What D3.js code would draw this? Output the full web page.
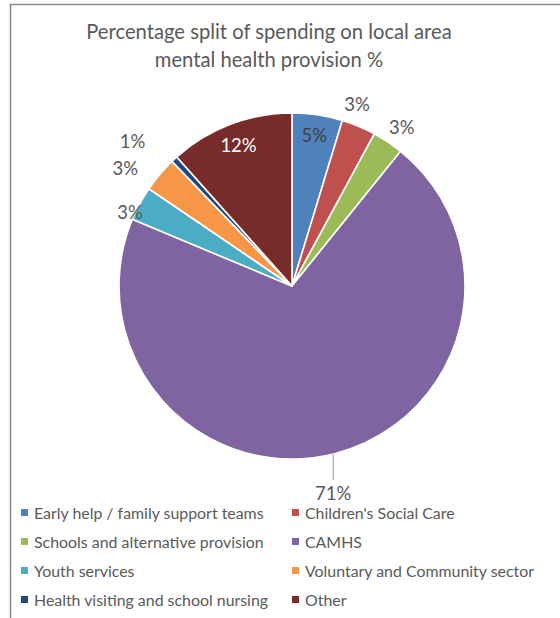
<!DOCTYPE html>
<html>
<head>
<meta charset="utf-8">
<script src="https://cdn.jsdelivr.net/npm/d3@7/dist/d3.min.js"></script>
<style>
  html, body { margin: 0; padding: 0; background: #fff; }
  svg { display: block; }
  text { font-family: Lato, "Open Sans", sans-serif; fill: #595959; }
</style>
</head>
<body>
<svg id="chart" width="560" height="618"></svg>
<script>
// Spending categories, in drawing order (clockwise from 12 o'clock)
const categories = [
  "Early help / family support teams",
  "Children's Social Care",
  "Schools and alternative provision",
  "CAMHS",
  "Youth services",
  "Voluntary and Community sector",
  "Health visiting and school nursing",
  "Other"
];
// Share of spending, %
const shares = [4.7, 3.2, 2.9, 70.5, 3.2, 3.3, 0.6, 11.6];
const colors = ["#4f81bd", "#c0504d", "#9bbb59", "#8064a2", "#4bacc6", "#f79646", "#1f497d", "#772c2a"];
const titleLines = ["Percentage split of spending on local area", "mental health provision %"];

const svg = d3.select("#chart");
const W = 560, H = 618;

// chart frame
svg.append("path")
  .attr("d", `M10.5,${H} V4.5 H${W}`)
  .attr("fill", "none")
  .attr("stroke", "#8c8c8c")
  .attr("stroke-width", 1.5);

// title
svg.append("g").selectAll("text").data(titleLines).join("text")
  .attr("x", 269)
  .attr("y", (d, i) => 39 + i * 28)
  .attr("text-anchor", "middle")
  .attr("font-size", 20.2)
  .text(d => d);

const cx = 292, cy = 286, R = 173;
const pie = d3.pie().sort(null).value(d => d)(shares);
const arc = d3.arc().innerRadius(0).outerRadius(R);

const g = svg.append("g").attr("transform", `translate(${cx},${cy})`);
g.selectAll("path").data(pie).join("path")
  .attr("d", arc)
  .attr("fill", (d, i) => colors[i])
  .attr("stroke", "#fff")
  .attr("stroke-width", 1.6)
  .attr("stroke-linejoin", "round");

// label placement: inside for wide slices, outside otherwise
const labelRadius = [152, 193, 193, 212, 178, 204, 215, 150];
const labelShift = [0, -3, 1, 3, -4, -5, -5, 0];

pie.forEach((d, i) => {
  const a = (d.startAngle + d.endAngle) / 2 + labelShift[i] * Math.PI / 180;
  const r = labelRadius[i];
  const x = Math.sin(a) * r, y = -Math.cos(a) * r;
  if (i === 3) {
    // leader line for the big slice
    g.append("line")
      .attr("x1", x).attr("x2", x)
      .attr("y1", Math.sqrt(R * R - x * x))
      .attr("y2", y - 14)
      .attr("stroke", "#a6a6a6").attr("stroke-width", 1.2);
  }
  g.append("text")
    .attr("x", x).attr("y", y)
    .attr("dy", "0.35em")
    .attr("text-anchor", "middle")
    .attr("font-size", 18.5)
    .style("fill", i === 7 ? "#ffffff" : (i === 0 ? "#404040" : "#595959"))
    .text(Math.round(d.data) + "%");
});

// legend, two columns
const legend = svg.append("g");
categories.forEach((c, i) => {
  const col = i % 2, row = Math.floor(i / 2);
  const lx = col === 0 ? 21 : 292;
  const ly = 513 + row * 29;
  legend.append("rect")
    .attr("x", lx).attr("y", ly - 4)
    .attr("width", 7).attr("height", 7)
    .attr("fill", colors[i]);
  legend.append("text")
    .attr("x", lx + 13).attr("y", ly)
    .attr("dy", "0.35em")
    .attr("font-size", 15.9)
    .text(c);
});
</script>
</body>
</html>
